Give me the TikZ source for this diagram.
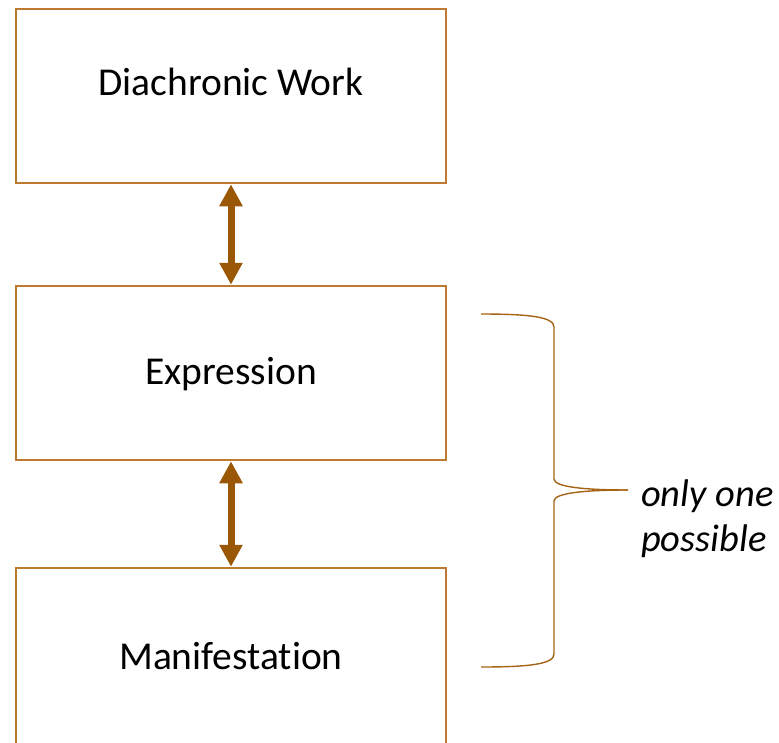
\documentclass[tikz,border=0pt]{standalone}
\usepackage{fontspec}
\setmainfont{Carlito}[Ligatures=CommonOff]
\usepackage{xcolor}
\usetikzlibrary{arrows.meta,positioning,calc}

\definecolor{boxbrown}{RGB}{190,122,48}
\definecolor{arrowbrown}{RGB}{154,88,6}
\definecolor{bracebrown}{RGB}{165,100,20}

\tikzset{
  boxtext/.style={font=\fontsize{39.5}{46}\selectfont},
  frbrbox/.style={draw=boxbrown, line width=2.5pt, minimum width=430pt,
    minimum height=174pt, inner sep=0pt, boxtext},
  linkarrow/.style={draw=arrowbrown, line width=7pt,
    {Triangle[width=22pt,length=22pt]}-{Triangle[width=22pt,length=22pt]}},
  bracepath/.style={draw=bracebrown, line width=1.4pt}
}

\begin{document}
\begin{tikzpicture}[x=1pt,y=-1pt]
  \clip (0,0) rectangle (779,742);

  % the three levels
  \node[frbrbox, label={[boxtext,yshift=14pt]center:Diachronic Work}] (work) at (231,96) {};
  \node[frbrbox, label={[boxtext,yshift=-1pt]center:Expression}] (expr) at (231,373) {};
  \node[frbrbox, minimum height=210pt, label={[boxtext,yshift=17pt]center:Manifestation}] (manif) at (231,673) {};

  \draw[linkarrow] (work) -- (expr);
  \draw[linkarrow] (expr) -- (manif);

  % brace over expression and manifestation
  \coordinate (bracetop) at (481,314);
  \coordinate (bracebot) at (481,667);
  \coordinate (bracetip) at (628,490);
  \draw[bracepath] (bracetop) .. controls (530,314) and (554,317) .. (554,327)
    -- (554,479) .. controls (554,487) and (585,490) .. (bracetip);
  \draw[bracepath] (bracebot) .. controls (530,667) and (554,664) .. (554,654)
    -- (554,501) .. controls (554,493) and (585,490) .. (bracetip);

  \node[anchor=west, inner sep=0pt, align=left,
    font=\fontsize{38.5}{45}\selectfont\itshape] (note) at (641,519) {only one\\possible};
\end{tikzpicture}
\end{document}
